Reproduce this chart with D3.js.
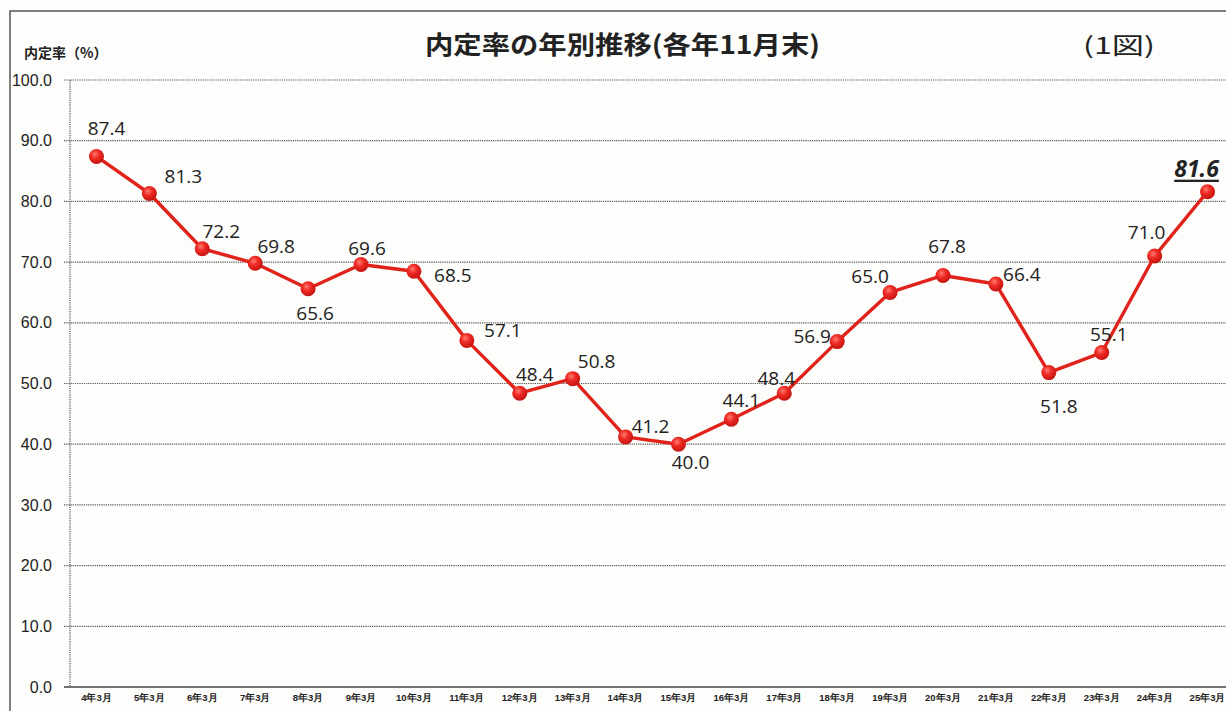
<!DOCTYPE html>
<html>
<head>
<meta charset="utf-8">
<script src="https://cdn.jsdelivr.net/npm/d3@7"></script>
<style>
  body { margin: 0; background: #fdfdfb; }
  svg { display: block; }
</style>
</head>
<body>
<svg></svg>
<script>
const width = 1226;
const height = 711;

// 年度（各年3月卒）
const categories = ["4年3月", "5年3月", "6年3月", "7年3月", "8年3月", "9年3月", "10年3月", "11年3月",
    "12年3月", "13年3月", "14年3月", "15年3月", "16年3月", "17年3月", "18年3月", "19年3月",
    "20年3月", "21年3月", "22年3月", "23年3月", "24年3月", "25年3月"];
// 内定率(%)
const rates = [87.4, 81.3, 72.2, 69.8, 65.6, 69.6, 68.5, 57.1, 48.4, 50.8, 41.2, 40.0,
    44.1, 48.4, 56.9, 65.0, 67.8, 66.4, 51.8, 55.1, 71.0, 81.6];
const yTicks = [0, 10, 20, 30, 40, 50, 60, 70, 80, 90, 100];

// 値ラベルの位置（点からのずれ, px）
const labelOffsets = [[10, -28], [34, -18], [19, -18], [21, -17], [7, 24], [6, -17], [39, 4], [36, -10],
    [15, -19], [24, -18], [25, -11], [12, 18], [10, -19], [-8, -15], [-25, -6], [-20, -16],
    [4, -29], [26, -10], [10, 33], [7, -19], [-8, -24], [-11, -24]];

const plot = { left: 70, right: 1234, top: 80, bottom: 687 };

let svg = d3.select("svg")
    .attr("width", width)
    .attr("height", height)
    .style("font-family", "'Noto Sans CJK JP', 'Noto Sans', sans-serif");

// 外枠
svg.append("path")
    .attr("d", `M10,${height} V11 H${width}`)
    .attr("fill", "none")
    .attr("stroke", "#555")
    .attr("stroke-width", 1.5);

// タイトル
svg.append("text")
    .attr("x", 425).attr("y", 54)
    .attr("font-size", 25).attr("font-weight", "bold")
    .attr("fill", "#222")
    .attr("textLength", 395)
    .attr("lengthAdjust", "spacingAndGlyphs")
    .text("内定率の年別推移(各年11月末)");
svg.append("text")
    .attr("x", 1083).attr("y", 54)
    .attr("font-size", 23)
    .attr("fill", "#222")
    .attr("textLength", 72)
    .attr("lengthAdjust", "spacingAndGlyphs")
    .text("(1図)");
svg.append("text")
    .attr("x", 24).attr("y", 58)
    .attr("font-size", 14).attr("font-weight", "bold")
    .attr("fill", "#222")
    .text("内定率（%）");

let scaleX = d3.scaleBand()
    .domain(categories)
    .range([plot.left, plot.right]);
let scaleY = d3.scaleLinear()
    .domain([0, 100])
    .range([plot.bottom, plot.top]);

// 横グリッド（点線）
svg.append("g")
    .selectAll("line")
    .data(yTicks)
    .enter()
    .append("line")
    .attr("x1", plot.left - 6)
    .attr("x2", plot.right)
    .attr("y1", d => scaleY(d))
    .attr("y2", d => scaleY(d))
    .attr("stroke", d => d === 0 ? "#444" : "#555")
    .attr("stroke-width", d => d === 0 ? 1.6 : 1.2)
    .attr("stroke-dasharray", d => d === 0 ? null : "1.2,1");

// 縦軸線
svg.append("line")
    .attr("x1", plot.left).attr("x2", plot.left)
    .attr("y1", plot.top).attr("y2", plot.bottom)
    .attr("stroke", "#555")
    .attr("stroke-width", 1.2)
    .attr("stroke-dasharray", "1.2,1");

// Y軸ラベル
let axisY = d3.axisLeft(scaleY)
    .tickValues(yTicks)
    .tickFormat(d3.format(".1f"))
    .tickSize(0)
    .tickPadding(18);
let gY = svg.append("g")
    .attr("transform", `translate(${plot.left}, 0)`)
    .call(axisY);
gY.select(".domain").remove();
gY.selectAll("text")
    .attr("font-size", 16)
    .attr("font-family", "'Liberation Sans', Arial, sans-serif")
    .attr("fill", "#222");

// X軸ラベル
let axisX = d3.axisBottom(scaleX).tickSize(0).tickPadding(7);
let gX = svg.append("g")
    .attr("transform", `translate(0, ${plot.bottom})`)
    .call(axisX);
gX.select(".domain").remove();
gX.selectAll("text")
    .attr("font-size", 9.5)
    .attr("font-weight", "bold")
    .attr("fill", "#222");

// 折れ線
const cx = d => scaleX(d) + scaleX.bandwidth() / 2;
let line = d3.line()
    .x((d, i) => cx(categories[i]))
    .y(d => scaleY(d));
svg.append("path")
    .datum(rates)
    .attr("d", line)
    .attr("fill", "none")
    .attr("stroke", "#e0221b")
    .attr("stroke-width", 3.4)
    .attr("stroke-linejoin", "round");

// マーカー
let grad = svg.append("defs").append("radialGradient")
    .attr("id", "dot")
    .attr("cx", "40%").attr("cy", "35%").attr("r", "65%");
grad.append("stop").attr("offset", "0%").attr("stop-color", "#ff7a70");
grad.append("stop").attr("offset", "45%").attr("stop-color", "#ee2a24");
grad.append("stop").attr("offset", "100%").attr("stop-color", "#c4140f");

svg.selectAll(".dot")
    .data(rates)
    .enter()
    .append("circle")
    .attr("class", "dot")
    .attr("r", 7.5)
    .attr("cx", (d, i) => cx(categories[i]))
    .attr("cy", d => scaleY(d))
    .attr("fill", "url(#dot)");

// 値ラベル
svg.selectAll(".val")
    .data(rates)
    .enter()
    .append("text")
    .attr("class", "val")
    .attr("x", (d, i) => cx(categories[i]) + labelOffsets[i][0])
    .attr("y", (d, i) => scaleY(d) + labelOffsets[i][1])
    .attr("text-anchor", "middle")
    .attr("dominant-baseline", "central")
    .attr("font-size", 19)
    .attr("font-family", "'Open Sans', 'Noto Sans', sans-serif")
    .attr("fill", "#222")
    .text(d => d.toFixed(1));

// 最新値を強調
svg.selectAll(".val")
    .filter((d, i) => i === rates.length - 1)
    .attr("font-weight", "bold")
    .attr("font-style", "italic")
    .attr("font-size", 23)
    .attr("text-decoration", "underline");
</script>
</body>
</html>
